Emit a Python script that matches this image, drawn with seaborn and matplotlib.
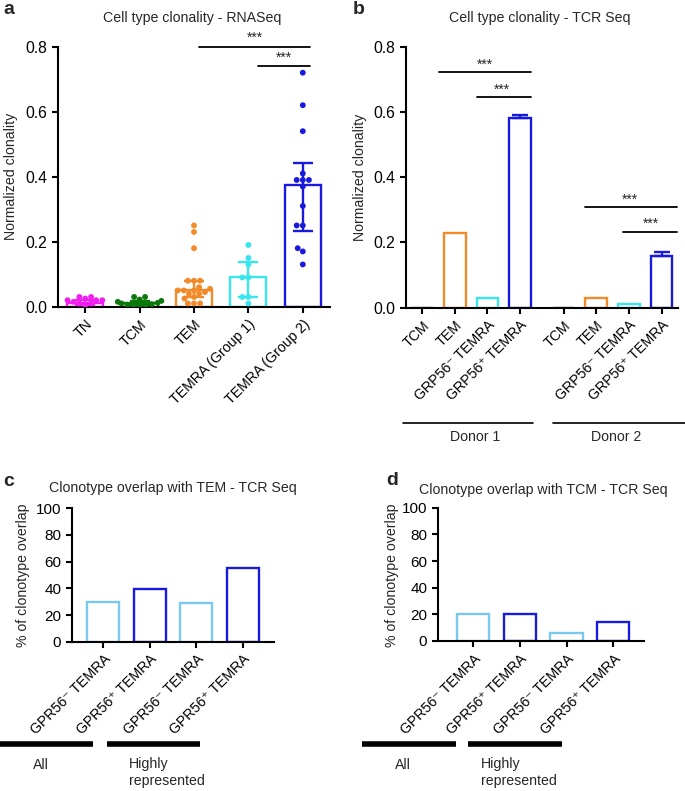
import numpy as np
import pandas as pd
import matplotlib
matplotlib.use("Agg")
import matplotlib.pyplot as plt
from matplotlib.lines import Line2D
import seaborn as sns

sns.set_style("ticks")
plt.rcParams['font.family'] = ['Liberation Sans', 'DejaVu Sans']
plt.rcParams['axes.linewidth'] = 1.5
plt.rcParams['xtick.major.width'] = 1.5
plt.rcParams['ytick.major.width'] = 1.5
plt.rcParams['xtick.major.size'] = 4
plt.rcParams['ytick.major.size'] = 4
plt.rcParams['xtick.color'] = 'black'
plt.rcParams['ytick.color'] = 'black'
plt.rcParams['axes.edgecolor'] = 'black'

# ---------------- data ----------------
# panel a
cats_a = ["TN", "TCM", "TEM", "TEMRA (Group 1)", "TEMRA (Group 2)"]
tn_pts = [0.03, 0.03, 0.025, 0.02, 0.02, 0.02, 0.015, 0.01, 0.01, 0.005]
tcm_pts = [0.03, 0.03, 0.022, 0.018, 0.015, 0.012, 0.01, 0.008, 0.006, 0.005, 0.004, 0.003]
tem_pts = [0.25, 0.23, 0.18, 0.08, 0.08, 0.08, 0.06, 0.055, 0.05, 0.05, 0.05, 0.045,
           0.04, 0.04, 0.03, 0.025, 0.01, 0.01, 0.01]
g1_pts = [0.19, 0.15, 0.13, 0.09, 0.09, 0.03, 0.03, 0.01]
g2_pts = [0.72, 0.62, 0.54, 0.41, 0.39, 0.39, 0.39, 0.37, 0.31, 0.25, 0.25, 0.18, 0.17, 0.13]
means_a = [0.012, 0.012, 0.052, 0.09, 0.375]
err_lo_a = [0.005, 0.006, 0.03, 0.03, 0.232]
err_hi_a = [0.022, 0.018, 0.08, 0.138, 0.443]
colors_a = ["#f01ef0", "#0a780a", "#f28a2a", "#38e6ee", "#1a1adc"]

# panel b
cells_b = ["TCM", "TEM", "GRP56\u207b TEMRA", "GRP56\u207a TEMRA"]
donors_b = ["Donor 1", "Donor 2"]
donor1_vals = [0.0, 0.23, 0.03, 0.58]
donor2_vals = [0.0, 0.03, 0.01, 0.16]
donor1_err = [0.0, 0.0, 0.0, 0.01]
donor2_err = [0.0, 0.0, 0.0, 0.01]
colors_b = ["#0a780a", "#f28a2a", "#38e6ee", "#1a1adc"]

# panels c / d
labels_cd = ["GPR56\u207b TEMRA", "GPR56\u207a TEMRA", "GPR56\u207b TEMRA", "GPR56\u207a TEMRA"]
overlap_tem = [30.0, 39.3, 29.2, 55.0]
overlap_tcm = [20.5, 20.5, 5.8, 14.5]
colors_cd = ["#78c8f0", "#1a1adc", "#78c8f0", "#1a1adc"]
groups_cd = ["All", "Highly\nrepresented"]

# ---------------- figure ----------------
W, H = 685, 791
fig = plt.figure(figsize=(W / 100, H / 100), dpi=100)


def axes_px(l, t, r, b):
    return fig.add_axes([l / W, 1 - b / H, (r - l) / W, (b - t) / H])


def fig_px(x, y):
    return x / W, 1 - y / H


FS = 11.3
FS_CD = 11
FT = 10.2
axA = axes_px(58, 46.7, 330, 306.7)
axB = axes_px(405.7, 46.7, 678, 307.7)
axC = axes_px(71.7, 508.3, 274, 641.7)
axD = axes_px(437.7, 507.7, 644, 641.0)

# ---- panel a ----
sns.barplot(x=cats_a, y=means_a, hue=cats_a, palette=colors_a, order=cats_a,
            fill=False, linewidth=1.7, width=0.66, legend=False, errorbar=None, ax=axA)
pts = [tn_pts, tcm_pts, tem_pts, g1_pts, g2_pts]
df_a = pd.DataFrame({"cat": np.repeat(cats_a, [len(p) for p in pts]),
                     "val": np.concatenate(pts)})
sns.swarmplot(data=df_a, x="cat", y="val", hue="cat", palette=colors_a, order=cats_a,
              size=4.2, legend=False, ax=axA, zorder=3)
for i, (m, lo, hi, c) in enumerate(zip(means_a, err_lo_a, err_hi_a, colors_a)):
    axA.errorbar(i, m, yerr=[[m - lo], [hi - m]], fmt='none', ecolor=c,
                 elinewidth=1.7, capsize=7, capthick=1.7, zorder=4)
axA.set_xlim(-0.5, 4.5)
axA.set_ylim(0, 0.8)
axA.set_yticks([0, 0.2, 0.4, 0.6, 0.8])
axA.set_yticklabels(["0.0", "0.2", "0.4", "0.6", "0.8"], fontsize=FS)
axA.set_xticks(range(5))
axA.set_xticklabels(cats_a, rotation=45, ha='right', rotation_mode='anchor', fontsize=FT)
axA.set_xlabel("")
axA.set_ylabel("")
# significance
axA.plot([2.1, 4.13], [0.8, 0.8], color='black', lw=1.3, clip_on=False)
axA.text(3.12, 0.827, "***", ha='center', va='center', fontsize=10)
axA.plot([3.17, 4.13], [0.74, 0.74], color='black', lw=1.3, clip_on=False)
axA.text(3.65, 0.765, "***", ha='center', va='center', fontsize=10)

# ---- panel b ----
gap = 1.33
pos_b = [i for i in range(4)] + [i + 4 + (gap - 1) for i in range(4)]
vals_b = donor1_vals + donor2_vals
errs_b = donor1_err + donor2_err
cols_b = colors_b + colors_b
sns.barplot(x=pos_b, y=vals_b, native_scale=True, fill=False, linewidth=1.7,
            width=0.66, errorbar=None, ax=axB)
for patch, c in zip(axB.patches, cols_b):
    patch.set_edgecolor(c)
for p, v, e, c in zip(pos_b, vals_b, errs_b, cols_b):
    if e > 0:
        axB.errorbar(p, v, yerr=[[0], [e]], fmt='none', ecolor=c,
                     elinewidth=1.7, capsize=5.5, capthick=1.7, zorder=4)
axB.set_xlim(-0.5, pos_b[-1] + 0.5)
axB.set_ylim(0, 0.8)
axB.set_yticks([0, 0.2, 0.4, 0.6, 0.8])
axB.set_yticklabels(["0.0", "0.2", "0.4", "0.6", "0.8"], fontsize=FS)
axB.set_xticks(pos_b)
axB.set_xticklabels(cells_b + cells_b, rotation=45, ha='right', rotation_mode='anchor', fontsize=FT)
axB.set_xlabel("")
axB.set_ylabel("")
for (x0, x1, y, sx, sy) in [(0.53, 3.33, 0.723, 1.93, 0.744), (1.68, 3.33, 0.645, 2.44, 0.667),
                            (5.0, 7.81, 0.31, 6.35, 0.332), (6.14, 7.81, 0.233, 7.01, 0.256)]:
    axB.plot([x0, x1], [y, y], color='black', lw=1.3, clip_on=False)
    axB.text(sx, sy, "***", ha='center', va='center', fontsize=10)

# donor lines
for (x0, x1, tx), name in zip([(403, 533, 475), (552.7, 685, 616)], donors_b):
    a, yy = fig_px(x0, 423)
    b_, _ = fig_px(x1, 423)
    fig.add_artist(Line2D([a, b_], [yy, yy], color='black', lw=1.2))
    fig.text(*fig_px(tx, 437), name, ha='center', va='center', fontsize=FT)

# ---- panels c, d ----
for ax, vals, xl in [(axC, overlap_tem, (-0.68, 3.67)), (axD, overlap_tcm, (-0.76, 3.66))]:
    sns.barplot(x=list(range(4)), y=vals, native_scale=True, fill=False, linewidth=1.7,
                width=0.69, errorbar=None, ax=ax)
    for patch, c in zip(ax.patches, colors_cd):
        patch.set_edgecolor(c)
    ax.set_xlim(*xl)
    ax.set_ylim(0, 100)
    ax.set_yticks([0, 20, 40, 60, 80, 100])
    ax.set_yticklabels(["0", "20", "40", "60", "80", "100"], fontsize=FS_CD)
    ax.set_xticks(range(4))
    ax.set_xticklabels(labels_cd, rotation=45, ha='right', rotation_mode='anchor', fontsize=FT)
    ax.set_xlabel("")
    ax.set_ylabel("")

for axs in [axA, axB, axC, axD]:
    sns.despine(ax=axs)
    axs.tick_params(axis='both', colors='black', length=4, width=1.5)

# group bars c/d
for (a0, a1, b0, b1, tA, tH) in [(0, 93, 107, 200, 33, 129), (361.7, 455.7, 468.3, 562.3, 395, 480.7)]:
    for x0, x1 in [(a0, a1), (b0, b1)]:
        p0 = fig_px(x0, 744)
        p1 = fig_px(x1, 744)
        fig.add_artist(Line2D([p0[0], p1[0]], [p0[1], p1[1]], color='black', lw=4, solid_capstyle='butt'))
    fig.text(*fig_px(tA, 765), groups_cd[0], ha='left', va='center', fontsize=FT)
    fig.text(*fig_px(tH, 757), groups_cd[1], ha='left', va='top', fontsize=FT, linespacing=1.25)

# titles
fig.text(*fig_px(192, 18), "Cell type clonality - RNASeq", ha='center', va='center', fontsize=FT)
fig.text(*fig_px(540, 18), "Cell type clonality - TCR Seq", ha='center', va='center', fontsize=FT)
fig.text(*fig_px(173, 488), "Clonotype overlap with TEM - TCR Seq", ha='center', va='center', fontsize=FT)
fig.text(*fig_px(543, 490), "Clonotype overlap with TCM - TCR Seq", ha='center', va='center', fontsize=FT)

# y labels
fig.text(*fig_px(11, 176), "Normalized clonality", rotation=90, ha='center', va='center', fontsize=FT)
fig.text(*fig_px(360, 177), "Normalized clonality", rotation=90, ha='center', va='center', fontsize=FT)
fig.text(*fig_px(23, 575), "% of clonotype overlap", rotation=90, ha='center', va='center', fontsize=FT)
fig.text(*fig_px(391.7, 575), "% of clonotype overlap", rotation=90, ha='center', va='center', fontsize=FT)

# panel letters
for letter, x, y in [("a", 3, 10), ("b", 353, 9), ("c", 3, 482), ("d", 386, 481)]:
    fig.text(*fig_px(x, y), letter, ha='left', va='center', fontsize=14, fontweight='bold')

fig.savefig("out.png", dpi=100)
